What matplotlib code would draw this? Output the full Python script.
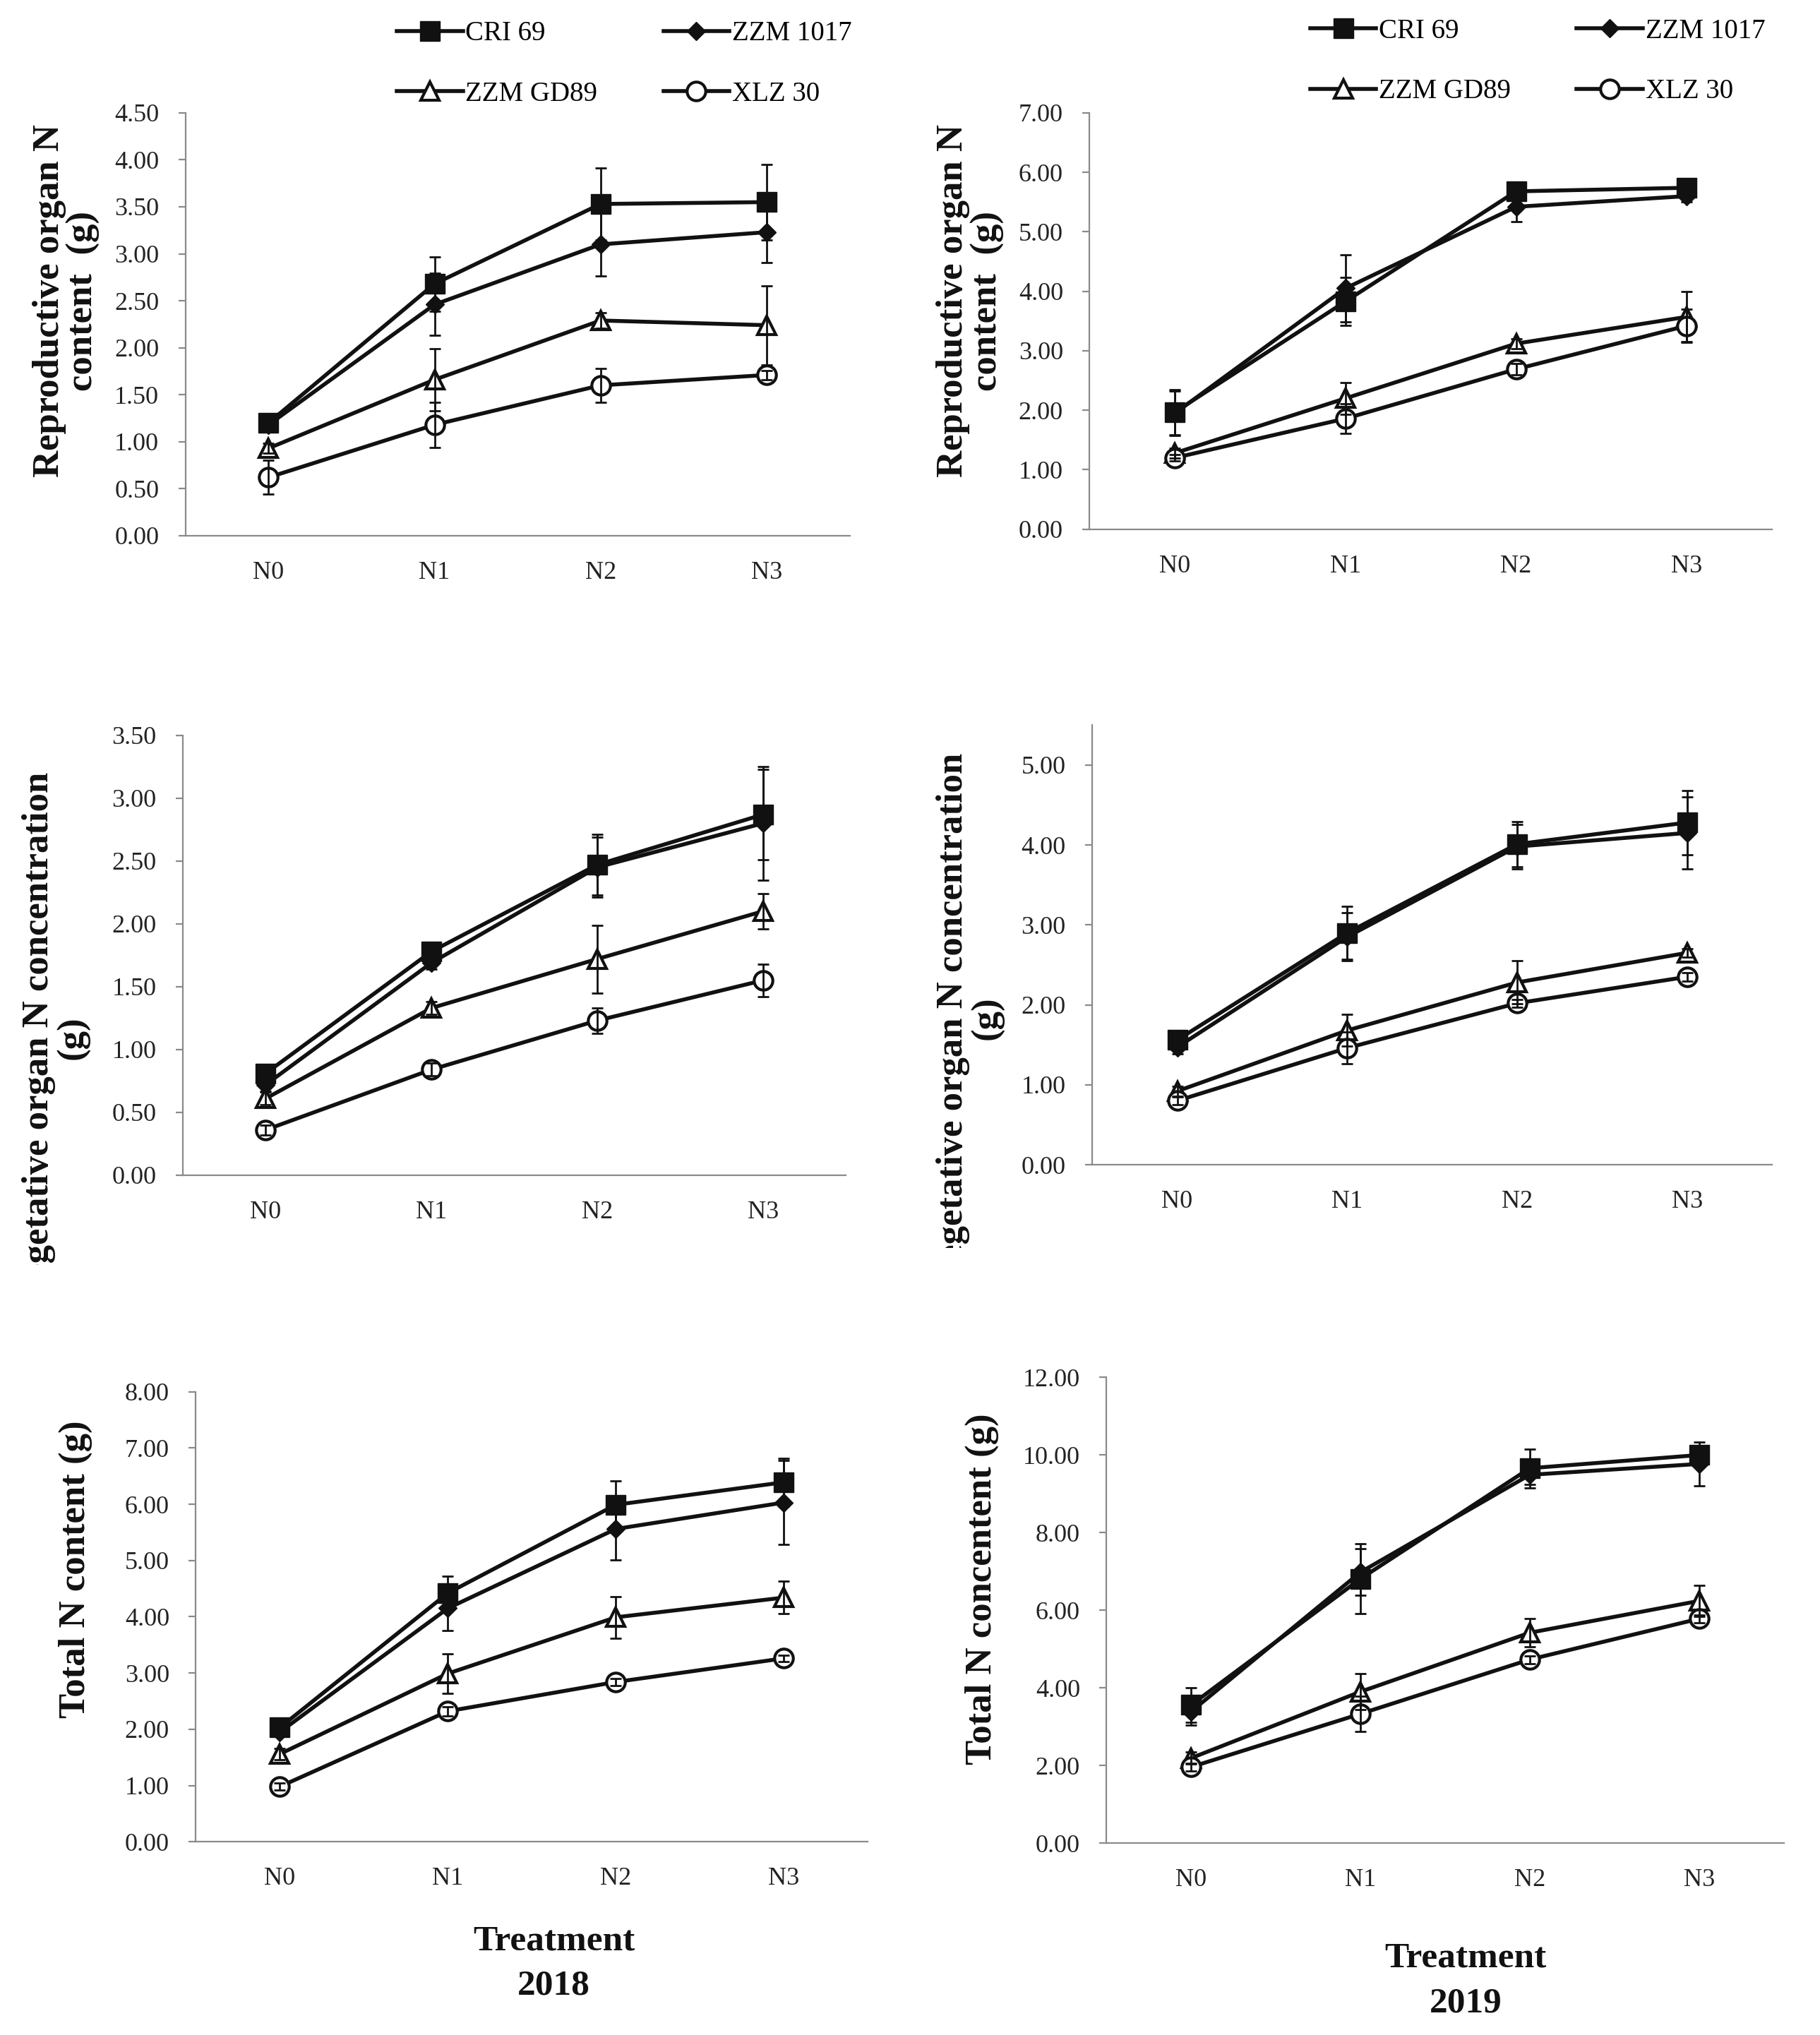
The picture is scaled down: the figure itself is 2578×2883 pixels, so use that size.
import numpy as np
import matplotlib
matplotlib.use("Agg")
import matplotlib.pyplot as plt
from matplotlib.ticker import FormatStrFormatter
from matplotlib.transforms import Bbox, TransformedBbox

plt.rcParams['font.family'] = ['Liberation Serif', 'DejaVu Serif']

treatments = ['N0', 'N1', 'N2', 'N3']
cultivars = ['CRI 69', 'ZZM 1017', 'ZZM GD89', 'XLZ 30']

# 2018 reproductive organ N content
rep18_cri = [1.20, 2.68, 3.53, 3.55]
rep18_zzm1017 = [1.18, 2.46, 3.10, 3.23]
rep18_gd89 = [0.93, 1.66, 2.29, 2.24]
rep18_xlz = [0.62, 1.18, 1.60, 1.71]
rep18_cri_err = [0.05, 0.29, 0.38, 0.40]
rep18_zzm1017_err = [0.05, 0.33, 0.34, 0.32]
rep18_gd89_err = [0.05, 0.33, 0.08, 0.42]
rep18_xlz_err = [0.18, 0.24, 0.18, 0.05]

# 2019 reproductive organ N content
rep19_cri = [1.97, 3.83, 5.68, 5.74]
rep19_zzm1017 = [1.95, 4.05, 5.42, 5.60]
rep19_gd89 = [1.28, 2.20, 3.12, 3.57]
rep19_xlz = [1.20, 1.86, 2.69, 3.42]
rep19_cri_err = [0.38, 0.40, 0.05, 0.05]
rep19_zzm1017_err = [0.37, 0.56, 0.25, 0.10]
rep19_gd89_err = [0.08, 0.27, 0.08, 0.42]
rep19_xlz_err = [0.05, 0.25, 0.10, 0.28]

# 2018 vegetative organ N
veg18_cri = [0.81, 1.78, 2.47, 2.87]
veg18_zzm1017 = [0.72, 1.69, 2.45, 2.80]
veg18_gd89 = [0.61, 1.33, 1.72, 2.10]
veg18_xlz = [0.36, 0.84, 1.23, 1.55]
veg18_cri_err = [0.05, 0.05, 0.24, 0.36]
veg18_zzm1017_err = [0.05, 0.05, 0.24, 0.45]
veg18_gd89_err = [0.05, 0.05, 0.27, 0.14]
veg18_xlz_err = [0.04, 0.05, 0.10, 0.13]

# 2019 vegetative organ N
veg19_cri = [1.56, 2.90, 4.01, 4.28]
veg19_zzm1017 = [1.47, 2.85, 3.98, 4.15]
veg19_gd89 = [0.92, 1.68, 2.28, 2.65]
veg19_xlz = [0.80, 1.46, 2.02, 2.35]
veg19_cri_err = [0.08, 0.33, 0.28, 0.40]
veg19_zzm1017_err = [0.08, 0.30, 0.28, 0.45]
veg19_gd89_err = [0.06, 0.20, 0.27, 0.05]
veg19_xlz_err = [0.05, 0.20, 0.05, 0.05]

# 2018 total N content
tot18_cri = [2.03, 4.42, 5.99, 6.39]
tot18_zzm1017 = [1.95, 4.15, 5.56, 6.03]
tot18_gd89 = [1.56, 2.99, 3.99, 4.34]
tot18_xlz = [0.98, 2.32, 2.84, 3.26]
tot18_cri_err = [0.08, 0.30, 0.42, 0.43]
tot18_zzm1017_err = [0.08, 0.40, 0.55, 0.75]
tot18_gd89_err = [0.10, 0.35, 0.37, 0.29]
tot18_xlz_err = [0.06, 0.08, 0.06, 0.06]

# 2019 total N content
tot19_cri = [3.56, 6.81, 9.66, 10.00]
tot19_zzm1017 = [3.39, 6.98, 9.49, 9.77]
tot19_gd89 = [2.19, 3.90, 5.42, 6.24]
tot19_xlz = [1.96, 3.33, 4.73, 5.78]
tot19_cri_err = [0.45, 0.90, 0.50, 0.15]
tot19_zzm1017_err = [0.35, 0.60, 0.25, 0.57]
tot19_gd89_err = [0.15, 0.46, 0.37, 0.40]
tot19_xlz_err = [0.10, 0.46, 0.10, 0.10]

W, H = 1403.0, 1569.0


def fx(x):
    return x / W


def fy(y):
    return 1 - y / H


def fig_rect(l, t, r, b):
    return [l / W, 1 - b / H, (r - l) / W, (b - t) / H]


fig = plt.figure(figsize=(25.78, 28.83), dpi=100)

INK = '#111111'
AXC = '#8a8a8a'
styles = [
    dict(marker='s', markersize=20, markerfacecolor=INK, markeredgecolor=INK),
    dict(marker='D', markersize=13, markerfacecolor=INK, markeredgecolor=INK),
    dict(marker='^', markersize=19, markerfacecolor='white', markeredgecolor=INK, markeredgewidth=3),
    dict(marker='o', markersize=19, markerfacecolor='white', markeredgecolor=INK, markeredgewidth=3),
]


def draw_panel(rect, means, errs, ytop, ymax, ystep):
    ax = fig.add_axes(fig_rect(*rect))
    x = np.arange(len(treatments))
    handles = []
    for m, e, st in zip(means, errs, styles):
        ln, = ax.plot(x, m, color=INK, lw=4, zorder=2, **st)
        ax.errorbar(x, m, yerr=e, fmt='none', ecolor=INK, elinewidth=2,
                    capsize=6, capthick=2, zorder=3)
        handles.append(ln)
    ax.set_xlim(-0.5, 3.5)
    ax.set_ylim(0, ytop)
    ax.set_yticks(np.arange(0, ymax + 1e-6, ystep))
    ax.yaxis.set_major_formatter(FormatStrFormatter('%.2f'))
    ax.set_xticks(x)
    ax.set_xticklabels(treatments)
    for s in ['top', 'right']:
        ax.spines[s].set_visible(False)
    for s in ['left', 'bottom']:
        ax.spines[s].set_color(AXC)
        ax.spines[s].set_linewidth(1.6)
    ax.tick_params(axis='y', direction='out', length=7, width=1.6, color=AXC,
                   pad=20, labelsize=26, labelcolor='#222222')
    ax.tick_params(axis='x', length=0, pad=26, labelsize=26, labelcolor='#222222')
    return ax, handles


def add_legend(ax, handles, x0, y0):
    # column-major fill: CRI 69 / ZZM GD89 on the left, ZZM 1017 / XLZ 30 on the right
    order = [0, 2, 1, 3]
    ax.legend([handles[i] for i in order], [cultivars[i] for i in order],
              ncol=2, loc='upper left', bbox_to_anchor=(fx(x0), fy(y0)),
              bbox_transform=fig.transFigure, frameon=False, fontsize=28,
              handlelength=2.4, handletextpad=0.1, columnspacing=2.4,
              labelspacing=1.25, borderpad=0, borderaxespad=0)


def ylabel(x, y, text, clip_y=None):
    t = fig.text(fx(x), fy(y), text, rotation=90, ha='center', va='center',
                 fontsize=38, fontweight='bold', linespacing=1.0,
                 multialignment='center', color=INK)
    if clip_y is not None:
        t.set_clip_box(TransformedBbox(Bbox([[0, fy(clip_y)], [1, 1]]), fig.transFigure))
        t.set_clip_on(True)
    return t


# row 1: reproductive organ
ax1, h1 = draw_panel((143, 87, 655, 413),
                     [rep18_cri, rep18_zzm1017, rep18_gd89, rep18_xlz],
                     [rep18_cri_err, rep18_zzm1017_err, rep18_gd89_err, rep18_xlz_err],
                     4.5, 4.5, 0.5)
add_legend(ax1, h1, 306, 16)
ylabel(51, 232, 'Reproductive organ N\ncontent  (g)')

ax2, h2 = draw_panel((840, 87, 1366, 408),
                     [rep19_cri, rep19_zzm1017, rep19_gd89, rep19_xlz],
                     [rep19_cri_err, rep19_zzm1017_err, rep19_gd89_err, rep19_xlz_err],
                     7, 7, 1)
add_legend(ax2, h2, 1010, 14)
ylabel(748, 232, 'Reproductive organ N\ncontent  (g)')

# row 2: vegetative organ
ax3, _ = draw_panel((141, 567, 652, 906),
                    [veg18_cri, veg18_zzm1017, veg18_gd89, veg18_xlz],
                    [veg18_cri_err, veg18_zzm1017_err, veg18_gd89_err, veg18_xlz_err],
                    3.5, 3.5, 0.5)
ylabel(43, 800, 'Vegetative organ N concentration\n(g)', clip_y=975)

ax4, _ = draw_panel((842, 559, 1366, 898),
                    [veg19_cri, veg19_zzm1017, veg19_gd89, veg19_xlz],
                    [veg19_cri_err, veg19_zzm1017_err, veg19_gd89_err, veg19_xlz_err],
                    5.5, 5, 1)
ylabel(748, 785, 'Vegetative organ N concentration\n(g)', clip_y=962)

# row 3: total N
ax5, _ = draw_panel((151, 1073, 669, 1420),
                    [tot18_cri, tot18_zzm1017, tot18_gd89, tot18_xlz],
                    [tot18_cri_err, tot18_zzm1017_err, tot18_gd89_err, tot18_xlz_err],
                    8, 8, 1)
ylabel(58, 1210, 'Total N content (g)')

ax6, _ = draw_panel((853, 1062, 1375, 1421),
                    [tot19_cri, tot19_zzm1017, tot19_gd89, tot19_xlz],
                    [tot19_cri_err, tot19_zzm1017_err, tot19_gd89_err, tot19_xlz_err],
                    12, 12, 2)
ylabel(757, 1225, 'Total N concentent (g)')

for x, y, s in [(427, 1497, 'Treatment'), (427, 1531, '2018'),
                (1130, 1510, 'Treatment'), (1130, 1545, '2019')]:
    fig.text(fx(x), fy(y), s, ha='center', va='center', fontsize=37,
             fontweight='bold', color=INK)

fig.savefig('out.png', dpi=100, facecolor='white')
